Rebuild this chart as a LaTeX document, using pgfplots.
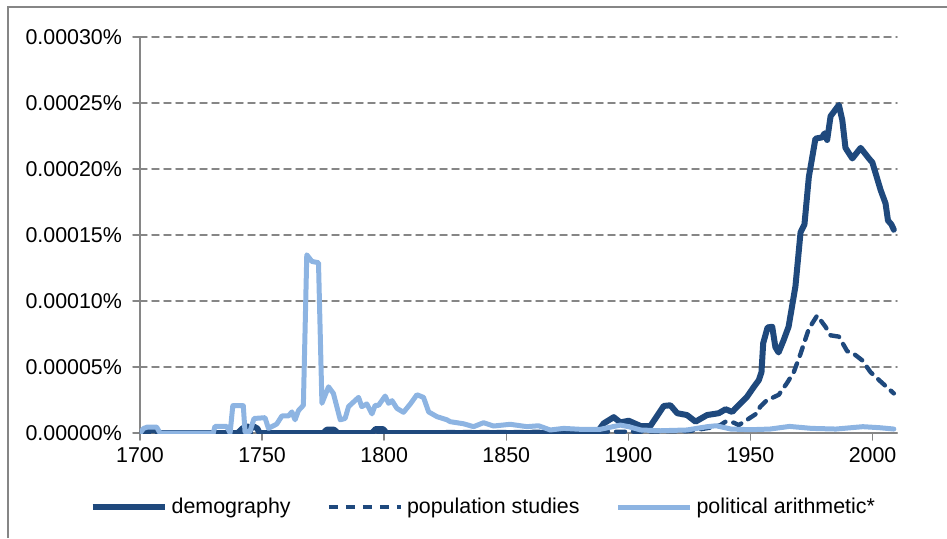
\documentclass[border=0pt]{standalone}
\usepackage{pgfplots}
\pgfplotsset{compat=1.18}
\usepackage{fontspec}
\setmainfont{Liberation Sans}
\definecolor{dblue}{HTML}{1F497D}
\definecolor{lblue}{HTML}{8DB4E2}
\definecolor{axgray}{HTML}{868686}
\begin{document}
\begin{tikzpicture}[x=1pt,y=1pt,font=\fontsize{10.7}{12.8}\selectfont]
\path[use as bounding box] (0,0) rectangle (473.5,269);
\draw[axgray, line width=0.9pt] (4,0) -- (4,265.5) -- (473.5,265.5);
\begin{axis}[
  at={(70pt,52.5pt)}, anchor=south west,
  scale only axis, width=378.5pt, height=198pt,
  xmin=1700, xmax=2010, ymin=0, ymax=30,
  axis x line*=bottom, axis y line*=left,
  axis line style={axgray, line width=0.75pt, -},
  tick align=outside, tick pos=left,
  major tick length=3.5pt,
  tick style={axgray, line width=0.75pt},
  xtick={1700,1750,...,2000},
  ytick={0,5,...,30},
  yticklabels={0.00000\%,0.00005\%,0.00010\%,0.00015\%,0.00020\%,0.00025\%,0.00030\%},
  /pgf/number format/assume math mode=true,
  /pgf/number format/set thousands separator={},
  ticklabel style={font=\fontsize{10.7}{12.8}\selectfont},
  yticklabel style={xshift=-2pt},
  ymajorgrids, grid style={axgray, line width=0.75pt, dash pattern=on 3.5pt off 2.5pt},
  legend columns=3,
  legend style={draw=none, fill=none, at={(-0.067,-0.187)}, anchor=west, inner sep=0pt,
     font=\fontsize{10.7}{12.8}\selectfont,
     nodes={inner xsep=2pt, inner ysep=1pt},
     /tikz/every even column/.append style={column sep=16pt}},
  legend image code/.code={\draw[#1] (0pt,0pt) -- (36pt,0pt);},
  line join=round, line cap=round,
]
\addplot[dblue, line width=3pt] coordinates {
(1700,0) (1702,0.15) (1704,0.2) (1706.5,0.2) (1708,0) (1740,0) (1742,0.35) (1744,0.5) (1745,0.25) (1746.5,0.5) (1748,0.35) (1749,0)
(1775,0) (1776.5,0.25) (1779.5,0.25) (1781,0) (1795,0) (1796.5,0.3) (1799.5,0.3) (1801,0) (1887,0)
(1889.9,0.73) (1894,1.2) (1896.7,0.8) (1900.1,0.93) (1905,0.53) (1909,0.53) (1914.5,2.05) (1917.2,2.1) (1920,1.5) (1924,1.36)
(1927.5,0.86) (1932.2,1.36) (1937,1.5) (1939.8,1.8) (1942.5,1.6) (1945.9,2.25) (1948.6,2.75) (1951.4,3.5) (1953.4,4.0) (1954.5,4.6)
(1955.2,6.8) (1957,8.0) (1958.9,8.05) (1960.2,6.5) (1961.5,6.1) (1963.5,7.0) (1965.6,8.05) (1968.4,11.1) (1970.5,15.2) (1972.1,15.8)
(1973.9,19.4) (1976.6,22.3) (1979.4,22.4) (1980.3,22.7) (1981.4,22.2) (1982.8,24.0) (1986.2,24.85) (1987.6,23.7) (1988.9,21.6)
(1991.7,20.8) (1995.1,21.6) (1998.5,20.8) (1999.9,20.5) (2001.2,19.7) (2003.3,18.4) (2005.3,17.4) (2006.3,16.1) (2007.7,15.8) (2008.7,15.4)
};
\addlegendentry{demography}
\addplot[dblue, line width=2.2pt, dash pattern=on 4.5pt off 4pt] coordinates {
(1700,0) (1900,0.1) (1925,0.15) (1935,0.45) (1937.7,0.6) (1939.8,0.86) (1943.2,0.78) (1945.2,0.6) (1948.6,1.0) (1952.7,1.5)
(1954,2.0) (1956.8,2.5) (1958.2,2.6) (1961.6,2.9) (1965,3.8) (1967.7,4.6) (1970.5,6.0) (1973.9,7.9) (1977.3,8.9) (1980.7,8.05)
(1982.8,7.4) (1986.2,7.3) (1989.6,6.2) (1992.3,6.0) (1995.8,5.5) (1999.2,4.6) (2003.3,3.9) (2008.7,3.0)
};
\addlegendentry{population studies}
\addplot[lblue, line width=2.5pt] coordinates {
(1700,0) (1701.5,0.35) (1703,0.45) (1706.8,0.45) (1708.2,0) (1730,0) (1730.7,0.5) (1735.5,0.5) (1736.9,0) (1738,2.07) (1742.3,2.07)
(1743,0.1) (1745,0.1) (1746.7,1.1) (1751.2,1.16) (1752.6,0.35) (1756,0.68) (1758.1,1.29) (1760.8,1.29) (1762.2,1.6) (1763.5,1.0)
(1764.9,1.7) (1766.9,2.1) (1768.3,13.5) (1770.4,13.0) (1773.1,12.9) (1774.5,2.25) (1777.2,3.5) (1779.2,3.0) (1782,1.0) (1784,1.1)
(1785.4,2.0) (1789.5,2.7) (1790.8,2.0) (1792.9,2.2) (1795,1.45) (1796.3,2.1) (1797.7,2.1) (1800.4,2.8) (1801.8,2.25) (1803.2,2.45)
(1805.2,1.87) (1807.9,1.57) (1810.7,2.2) (1813.4,2.9) (1816.1,2.7) (1818.2,1.6) (1821.6,1.24) (1825.7,1.0) (1827,0.86) (1832.5,0.7)
(1836.6,0.48) (1840.7,0.78) (1844.8,0.53) (1851.6,0.66) (1858.5,0.48) (1863.2,0.55) (1868,0.23) (1873.5,0.35) (1880.3,0.28)
(1888.5,0.28) (1896.7,0.6) (1900.1,0.48) (1905,0.23) (1913,0.17) (1924,0.23) (1932.3,0.48) (1936,0.55) (1942,0.3) (1950,0.25)
(1958,0.3) (1966,0.5) (1975,0.35) (1985,0.3) (1996,0.48) (2003,0.4) (2008.7,0.3)
};
\addlegendentry{political arithmetic*}
\end{axis}
\end{tikzpicture}
\end{document}
